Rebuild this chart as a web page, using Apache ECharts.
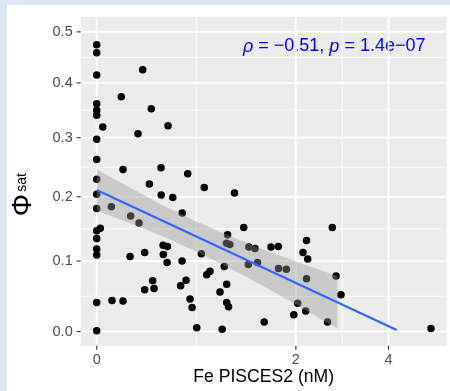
<!DOCTYPE html>
<html><head><meta charset="utf-8">
<script src="https://cdn.jsdelivr.net/npm/echarts@6/dist/echarts.min.js"></script>
<style>
html,body{margin:0;padding:0;background:#dde6f3;width:450px;height:391px;overflow:hidden}
#card{position:absolute;left:7px;top:5px;width:443px;height:386px;background:#fff}
#c{position:absolute;left:0;top:0;width:450px;height:391px}
</style></head><body><div id="card"></div><div id="c"></div>
<script>
// Fe PISCES2 (nM) for each point
const feValues = [0,0,0,0.289,0.145,0,0,0.351,0,0.034,0.482,0.256,0,0,0.156,0.426,0,0.337,0.427,0,
  0,0.084,0.206,0.263,0.020,0,0,0,0,0.202,0.303,0.442,0.444,0.474,0.362,0.303,0.372,0,0.088,0.156,
  0,0.652,0.810,1.138,0.521,0.603,1.250,1.058,1.046,1.084,0.476,0.601,0.781,1.021,0.868,0.834,0.637,0.589,1.048,0.974,
  0.673,0.692,1.048,1.069,0.736,0.998,1.314,1.394,1.308,1.428,1.615,1.723,1.726,1.846,2.668,2.181,2.120,2.202,2.181,2.743,
  2.848,2.030,1.966,2.167,1.519,2.572,5.321];
// phi_sat for each point
const phiValues = [0.474,0.458,0.415,0.425,0.374,0.361,0.349,0.352,0.340,0.319,0.321,0.307,0.297,0.262,0.245,0.248,0.229,0.221,0.203,0.204,
  0.181,0.184,0.169,0.158,0.150,0.146,0.134,0.118,0.109,0.107,0.113,0.124,0.110,0.098,0.071,0.058,0.060,0.040,0.043,0.042,
  0.001,0.238,0.215,0.206,0.199,0.174,0.151,0.140,0.127,0.125,0.122,0.100,0.111,0.092,0.085,0.080,0.072,0.064,0.066,0.055,
  0.045,0.033,0.040,0.034,0.005,0.003,0.121,0.119,0.095,0.098,0.121,0.122,0.089,0.088,0.151,0.131,0.113,0.103,0.074,0.078,
  0.051,0.039,0.023,0.028,0.013,0.013,0.004];
// fitted line
const fitFe = [0, 4.23];
const fitPhi = [0.211, 0.002];
// confidence band
const bandFe   = [0, 0.202, 0.418, 0.701, 1.086, 1.461, 2.069, 2.770];
const bandLow  = [0.1774, 0.1578, 0.1390, 0.1168, 0.0894, 0.0661, 0.0340, 0.0039];
const bandHigh = [0.2456, 0.2147, 0.1888, 0.1630, 0.1376, 0.1193, 0.0971, 0.0780];
// ticks
const xTicks = [0, 2, 4];
const yTicks = [0, 0.1, 0.2, 0.3, 0.4, 0.5];
const annotationText = '{i|ρ} = −0.51, {i|p} = 1.4e−07';

const T = v => Math.log1p(v);           // log(1+x) scale transform
const FONT = '"Liberation Sans", Arial, Helvetica, sans-serif';
const mids = arr => arr.slice(1).map((v, i) => (T(arr[i]) + T(v)) / 2);
const xMinor = mids(xTicks), yMinor = mids(yTicks);
const findLabel = (ticks, v, fmt) => {
  for (const t of ticks) if (Math.abs(T(t) - v) < 1e-6) return fmt(t);
  return '';
};

const chart = echarts.init(document.getElementById('c'), null, {renderer:'canvas'});
chart.setOption({
  animation: false,
  backgroundColor: 'transparent',
  grid: {left:80.7, right:3.3, top:16.7, bottom:45.3, show:true, backgroundColor:'#ebebeb', borderWidth:0, containLabel:false},
  xAxis: {
    type:'value', min:-0.0883, max:1.9305,
    axisLine:{show:false}, splitLine:{show:false}, axisTick:{show:false},
    axisLabel:{customValues: xTicks.map(T), margin:6.5, color:'#4d4d4d', fontSize:14.5, fontFamily:FONT,
      formatter: v => findLabel(xTicks, v, t => String(t))}
  },
  yAxis: {
    type:'value', min:-0.0192, max:0.426,
    axisLine:{show:false}, splitLine:{show:false}, axisTick:{show:false},
    axisLabel:{customValues: yTicks.map(T), margin:8, color:'#4d4d4d', fontSize:14.5, fontFamily:FONT,
      formatter: v => findLabel(yTicks, v, t => t.toFixed(1))}
  },
  series: [
    {
      // panel grid lines and axis ticks, placed through the axes
      type:'custom', z:1, silent:true, clip:false, data:[[0,0]],
      renderItem: (params, api) => {
        const cs = params.coordSys;
        const x0 = cs.x, x1 = cs.x + cs.width, y0 = cs.y, y1 = cs.y + cs.height;
        const kids = [];
        const vline = (v, w) => { const p = api.coord([v, 0]); kids.push({type:'line', shape:{x1:p[0], y1:y0, x2:p[0], y2:y1}, style:{stroke:'#ffffff', lineWidth:w}}); };
        const hline = (v, w) => { const p = api.coord([0, v]); kids.push({type:'line', shape:{x1:x0, y1:p[1], x2:x1, y2:p[1]}, style:{stroke:'#ffffff', lineWidth:w}}); };
        xMinor.forEach(v => vline(v, 0.85));
        yMinor.forEach(v => hline(v, 0.85));
        xTicks.forEach(t => vline(T(t), 1.7));
        yTicks.forEach(t => hline(T(t), 1.7));
        xTicks.forEach(t => { const p = api.coord([T(t), 0]); kids.push({type:'line', shape:{x1:p[0], y1:y1, x2:p[0], y2:y1 + 4}, style:{stroke:'#333333', lineWidth:1.1}}); });
        yTicks.forEach(t => { const p = api.coord([0, T(t)]); kids.push({type:'line', shape:{x1:x0 - 4, y1:p[1], x2:x0, y2:p[1]}, style:{stroke:'#333333', lineWidth:1.1}}); });
        return {type:'group', children: kids};
      }
    },
    {
      type:'scatter', z:2, silent:true,
      data: feValues.map((x, i) => [T(x), T(phiValues[i])]),
      symbolSize:7.5, itemStyle:{color:'#000000', opacity:1}
    },
    {
      type:'custom', z:3, silent:true, data:[[0,0]],
      renderItem: (params, api) => {
        const up = bandFe.map((x, i) => api.coord([T(x), T(bandHigh[i])]));
        const lo = bandFe.map((x, i) => api.coord([T(x), T(bandLow[i])])).reverse();
        return {type:'polygon', shape:{points: up.concat(lo)}, style:{fill:'rgba(153,153,153,0.4)'}};
      }
    },
    {
      type:'line', z:4, silent:true, symbol:'none',
      data: fitFe.map((x, i) => [T(x), T(fitPhi[i])]),
      lineStyle:{color:'#3366FF', width:2.2}
    }
  ],
  graphic: [
    {type:'text', x:243, y:46.5, style:{text: annotationText, fill:'#0000FF', fontSize:18, fontFamily:FONT,
      align:'left', verticalAlign:'middle',
      rich:{i:{fontStyle:'italic', fontSize:18, fontFamily:FONT, fill:'#0000FF'}}}},
    {type:'text', x:263.7, y:377.5, style:{text:'Fe PISCES2 (nM)', fill:'#000000', fontSize:17.6, fontFamily:FONT,
      align:'center', verticalAlign:'middle'}},
    {type:'text', x:23, y:205, rotation:Math.PI/2, style:{text:'Φ', fill:'#000000', fontSize:28, fontFamily:FONT,
      align:'center', verticalAlign:'middle'}},
    {type:'text', x:22.5, y:182.5, rotation:Math.PI/2, style:{text:'sat', fill:'#000000', fontSize:14, fontFamily:FONT,
      align:'center', verticalAlign:'middle'}}
  ]
});
</script></body></html>
